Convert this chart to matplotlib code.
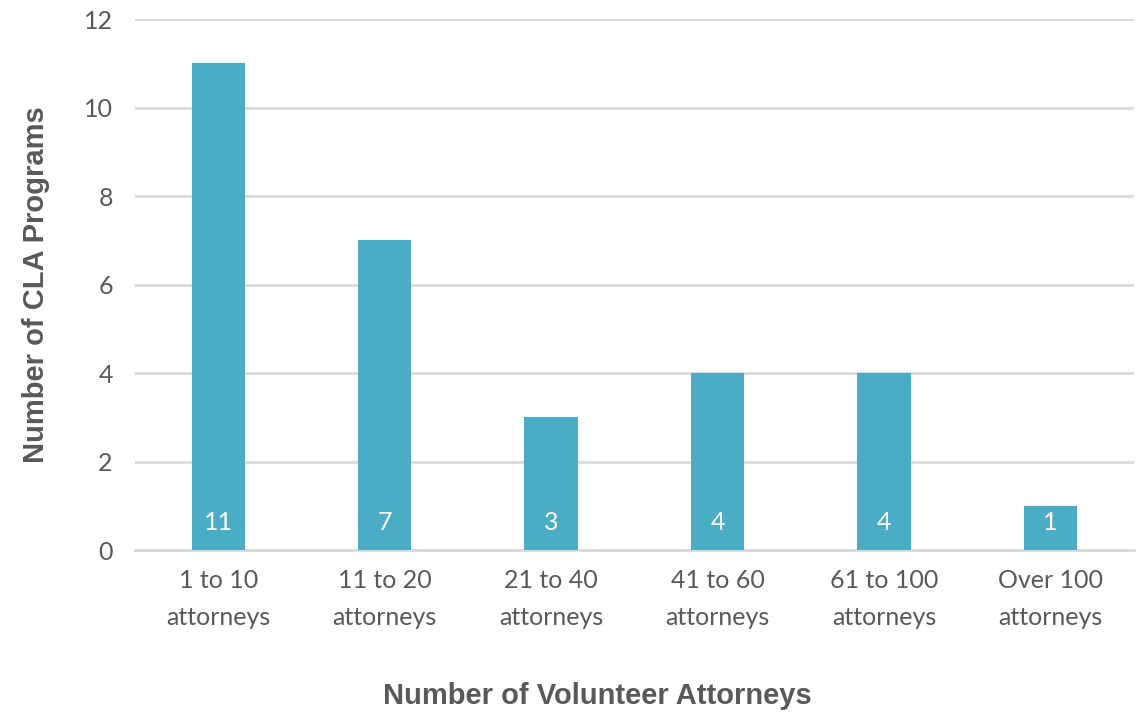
import matplotlib
matplotlib.use("Agg")
import matplotlib.pyplot as plt
import numpy as np

categories = ["1 to 10\nattorneys", "11 to 20\nattorneys", "21 to 40\nattorneys",
              "41 to 60\nattorneys", "61 to 100\nattorneys", "Over 100\nattorneys"]
programs = [11, 7, 3, 4, 4, 1]

bar_color = "#4BACC6"
text_color = "#595959"
grid_color = "#D9D9D9"

fig = plt.figure(figsize=(11.44, 7.13), dpi=100)
ax = fig.add_axes([0.118, 0.2286, 0.873, 0.7444])

x = np.arange(len(categories))
ax.bar(x, programs, width=0.32, color=bar_color, zorder=3)

# value labels sit at the base of each bar
for xi, v in zip(x, programs):
    ax.text(xi, 0.36, str(v), ha="center", va="bottom", color="white",
            fontsize=18, family="Lato", zorder=4)

ax.set_xlim(-0.5, len(categories) - 0.5)
ax.set_ylim(0, 12)
ax.set_yticks(range(0, 13, 2))
ax.set_xticks(x)
ax.set_xticklabels(categories, fontsize=18, family="Lato", color=text_color,
                   linespacing=1.72)
ax.tick_params(axis="y", labelsize=18, labelcolor=text_color, length=0, pad=16)
ax.tick_params(axis="x", length=0, pad=14)
for lbl in ax.get_yticklabels():
    lbl.set_family("Lato")

ax.grid(axis="y", color=grid_color, linewidth=2, zorder=0)
for s in ["top", "right", "left"]:
    ax.spines[s].set_visible(False)
ax.spines["bottom"].set_color(grid_color)
ax.spines["bottom"].set_linewidth(2)

ax.set_ylabel("Number of CLA Programs", fontsize=21, fontweight="bold",
              family="Liberation Sans", color=text_color, labelpad=24)
ax.set_xlabel("Number of Volunteer Attorneys", fontsize=21, fontweight="bold",
              family="Liberation Sans", color=text_color)
ax.xaxis.set_label_coords(0.4625, -0.248)

fig.savefig("out.png", dpi=100)
